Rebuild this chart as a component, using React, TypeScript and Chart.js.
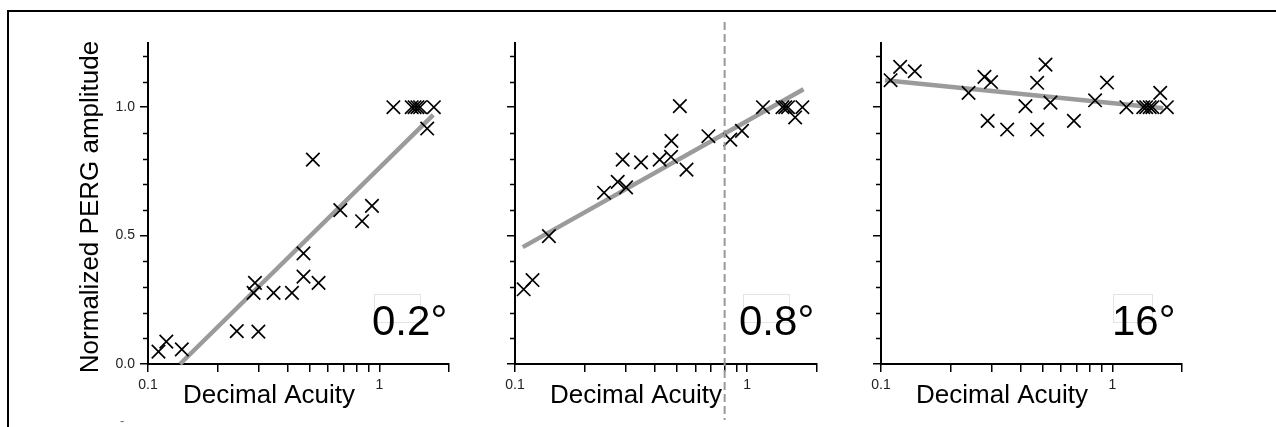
import React, { useEffect, useRef } from 'react';
import { Chart, registerables } from 'chart.js';

Chart.register(...registerables);

// ---------------- data ----------------
const panelLabels = ['0.2°', '0.8°', '16°'];

const acuity02 = [0.111, 0.120, 0.140, 0.242, 0.300, 0.286, 0.290, 0.349, 0.419, 0.470, 0.470, 0.546, 0.516, 0.678, 0.842, 0.929, 1.15, 1.38, 1.42, 1.46, 1.50, 1.72, 1.61];
const amp02 = [0.048, 0.087, 0.057, 0.128, 0.126, 0.277, 0.316, 0.277, 0.277, 0.340, 0.431, 0.316, 0.796, 0.599, 0.556, 0.616, 1.0, 1.0, 1.0, 1.0, 1.0, 1.0, 0.917];
const fit02X = [0.1376, 1.71];
const fit02Y = [0.0, 0.97];

const acuity08 = [0.109, 0.119, 0.140, 0.242, 0.277, 0.291, 0.301, 0.349, 0.420, 0.470, 0.472, 0.513, 0.548, 0.681, 0.846, 0.950, 1.17, 1.42, 1.46, 1.50, 1.73, 1.61];
const amp08 = [0.291, 0.327, 0.498, 0.667, 0.709, 0.796, 0.688, 0.785, 0.796, 0.807, 0.869, 1.004, 0.757, 0.887, 0.874, 0.908, 1.0, 1.0, 1.0, 1.0, 1.0, 0.960];
const fit08X = [0.108, 1.75];
const fit08Y = [0.455, 1.07];

const acuity16 = [0.110, 0.121, 0.140, 0.239, 0.280, 0.299, 0.289, 0.351, 0.421, 0.473, 0.473, 0.514, 0.540, 0.682, 0.842, 0.948, 1.15, 1.36, 1.40, 1.45, 1.49, 1.72, 1.61];
const amp16 = [1.105, 1.157, 1.140, 1.056, 1.118, 1.098, 0.947, 0.913, 1.004, 1.095, 0.913, 1.166, 1.018, 0.947, 1.027, 1.096, 1.0, 1.0, 1.0, 1.0, 1.0, 1.0, 1.056];
const fit16X = [0.104, 1.66];
const fit16Y = [1.105, 0.996];

const cutoffAcuity = 0.8; // dashed vertical line, middle panel

const xTickValues = [0.1, 0.2, 0.3, 0.4, 0.5, 0.6, 0.7, 0.8, 0.9, 1, 2];
const xTickLabels = ['0.1', '', '', '', '', '', '', '', '', '1', ''];
const yTickValues = [0, 0.1, 0.2, 0.3, 0.4, 0.5, 0.6, 0.7, 0.8, 0.9, 1.0, 1.1, 1.2];
const yTickLabels = ['0.0', '', '', '', '', '0.5', '', '', '', '', '1.0', '', ''];
const yMajorTicks = [0, 0.5, 1.0];

const xTitle = 'Decimal Acuity';
const yTitle = 'Normalized PERG amplitude';

// ---------------- layout / style ----------------
const FONT = '"Liberation Sans", Arial, Helvetica, sans-serif';
const H = 427;
const AREA_TOP = 43;
const AREA_BOTTOM = 364;

type PanelCfg = {
  left: number;
  width: number;
  areaLeft: number;
  areaRight: number;
  xs: number[];
  ys: number[];
  fitX: number[];
  fitY: number[];
  label: string;
  labelDx: number;
  boxDx: number;
  boxW: number;
  showY: boolean;
  dashed: number | null;
};

const panels: PanelCfg[] = [
  { left: 0, width: 470, areaLeft: 148, areaRight: 449, xs: acuity02, ys: amp02, fitX: fit02X, fitY: fit02Y, label: panelLabels[0], labelDx: 224, boxDx: 226, boxW: 46, showY: true, dashed: null },
  { left: 470, width: 380, areaLeft: 45, areaRight: 347, xs: acuity08, ys: amp08, fitX: fit08X, fitY: fit08Y, label: panelLabels[1], labelDx: 224, boxDx: 228, boxW: 46, showY: false, dashed: cutoffAcuity },
  { left: 850, width: 426, areaLeft: 31, areaRight: 332, xs: acuity16, ys: amp16, fitX: fit16X, fitY: fit16Y, label: panelLabels[2], labelDx: 231, boxDx: 232, boxW: 39, showY: false, dashed: null },
];

const decorPlugin = {
  id: 'panelDecor',
  afterDraw(chart: any, _args: any, opts: any) {
    const { ctx, chartArea, scales } = chart;
    const cfg: PanelCfg = opts.cfg;
    const L = chartArea.left;
    ctx.save();

    // minor y ticks
    ctx.strokeStyle = '#000';
    ctx.lineWidth = 1.5;
    yTickValues.forEach((v) => {
      if (yMajorTicks.some((m) => Math.abs(m - v) < 1e-9)) return;
      const py = Math.round(scales.y.getPixelForValue(v)) + 0.5;
      ctx.beginPath();
      ctx.moveTo(L - 5, py);
      ctx.lineTo(L, py);
      ctx.stroke();
    });

    // dashed reference line
    if (cfg.dashed !== null) {
      const px = scales.x.getPixelForValue(cfg.dashed);
      ctx.strokeStyle = '#9a9a9a';
      ctx.lineWidth = 2;
      ctx.setLineDash([8, 4]);
      ctx.beginPath();
      ctx.moveTo(px, 22);
      ctx.lineTo(px, 420);
      ctx.stroke();
      ctx.setLineDash([]);
    }

    // faint text box
    ctx.strokeStyle = '#e4e4e4';
    ctx.lineWidth = 1;
    ctx.strokeRect(L + cfg.boxDx + 0.5, 294.5, cfg.boxW, 28);

    // panel label
    ctx.fillStyle = '#000';
    ctx.font = `42px ${FONT}`;
    ctx.textAlign = 'left';
    ctx.textBaseline = 'alphabetic';
    ctx.fillText(cfg.label, L + cfg.labelDx, 335);

    // x title
    ctx.font = `26px ${FONT}`;
    ctx.fillText(xTitle, L + 35, 403);

    if (cfg.showY) {
      ctx.save();
      ctx.translate(98, 207);
      ctx.rotate(-Math.PI / 2);
      ctx.textAlign = 'center';
      ctx.font = `26px ${FONT}`;
      ctx.fillText(yTitle, 0, 0);
      ctx.restore();
      ctx.fillStyle = '#666';
      ctx.font = `13px ${FONT}`;
      ctx.fillText('-', 120, 425);
    }
    ctx.restore();
  },
};

function Panel({ cfg }: { cfg: PanelCfg }) {
  const ref = useRef<HTMLCanvasElement>(null);
  useEffect(() => {
    const canvas = ref.current!;
    const chart = new Chart(canvas, {
      type: 'scatter',
      data: {
        datasets: [
          {
            type: 'scatter',
            data: cfg.xs.map((x, i) => ({ x, y: cfg.ys[i] })),
            pointStyle: 'crossRot',
            pointRadius: 9.5,
            pointHoverRadius: 9.5,
            pointBorderWidth: 1.7,
            pointBorderColor: '#000',
            pointBackgroundColor: 'rgba(0,0,0,0)',
            borderColor: '#000',
            showLine: false,
            order: 1,
            clip: false,
          } as any,
          {
            type: 'line',
            data: cfg.fitX.map((x, i) => ({ x, y: cfg.fitY[i] })),
            borderColor: '#9b9b9b',
            borderWidth: 4.5,
            pointRadius: 0,
            tension: 0,
            order: 2,
            clip: false,
          } as any,
        ],
      },
      options: {
        animation: false,
        responsive: false,
        devicePixelRatio: 1,
        events: [],
        layout: { padding: { left: 0, top: AREA_TOP, right: cfg.width - cfg.areaRight, bottom: 0 } },
        plugins: {
          legend: { display: false },
          tooltip: { enabled: false },
          panelDecor: { cfg },
        } as any,
        scales: {
          x: {
            type: 'logarithmic',
            min: 0.1,
            max: 2,
            afterBuildTicks: (s: any) => {
              s.ticks = xTickValues.map((v) => ({ value: v }));
            },
            afterFit: (s: any) => {
              s.height = H - AREA_BOTTOM;
            },
            ticks: {
              autoSkip: false,
              maxRotation: 0,
              padding: 5,
              color: '#222',
              font: { family: FONT, size: 14 },
              callback: (v: any) => {
                const i = xTickValues.findIndex((t) => Math.abs(t - Number(v)) < 1e-9);
                return i >= 0 ? xTickLabels[i] : '';
              },
            },
            grid: {
              display: true,
              drawOnChartArea: false,
              drawTicks: true,
              tickLength: 8,
              tickColor: '#000',
              tickWidth: 1.5,
              lineWidth: 1.5,
              color: '#000',
            },
            border: { display: true, color: '#000', width: 2 },
          },
          y: {
            type: 'linear',
            min: 0,
            max: 1.25,
            afterBuildTicks: (s: any) => {
              s.ticks = yTickValues.map((v) => ({ value: v }));
            },
            afterFit: (s: any) => {
              s.width = cfg.areaLeft;
            },
            ticks: {
              display: cfg.showY,
              autoSkip: false,
              padding: 5,
              color: '#222',
              font: { family: FONT, size: 14 },
              callback: (v: any) => {
                const i = yTickValues.findIndex((t) => Math.abs(t - Number(v)) < 1e-9);
                return i >= 0 ? yTickLabels[i] : '';
              },
            },
            grid: {
              display: true,
              drawOnChartArea: false,
              drawTicks: true,
              tickLength: 8,
              tickWidth: 1.5,
              lineWidth: 1.5,
              tickColor: (c: any) =>
                c.tick && yMajorTicks.some((m) => Math.abs(m - c.tick.value) < 1e-9) ? '#000' : 'rgba(0,0,0,0)',
              color: '#000',
            },
            border: { display: true, color: '#000', width: 2 },
          },
        },
      } as any,
      plugins: [decorPlugin as any],
    });
    return () => chart.destroy();
  }, [cfg]);
  return (
    <canvas
      ref={ref}
      width={cfg.width}
      height={H}
      style={{ position: 'absolute', left: cfg.left, top: 0, width: cfg.width, height: H }}
    />
  );
}

export default function App() {
  return (
    <div
      style={{
        position: 'fixed',
        left: 0,
        top: 0,
        width: 1276,
        height: H,
        overflow: 'hidden',
        background: '#fff',
      }}
    >
      {panels.map((p, i) => (
        <Panel key={i} cfg={p} />
      ))}
      <div
        style={{
          position: 'absolute',
          left: 7,
          top: 10,
          width: 1400,
          height: 600,
          borderLeft: '2px solid #000',
          borderTop: '2px solid #000',
          pointerEvents: 'none',
        }}
      />
    </div>
  );
}
